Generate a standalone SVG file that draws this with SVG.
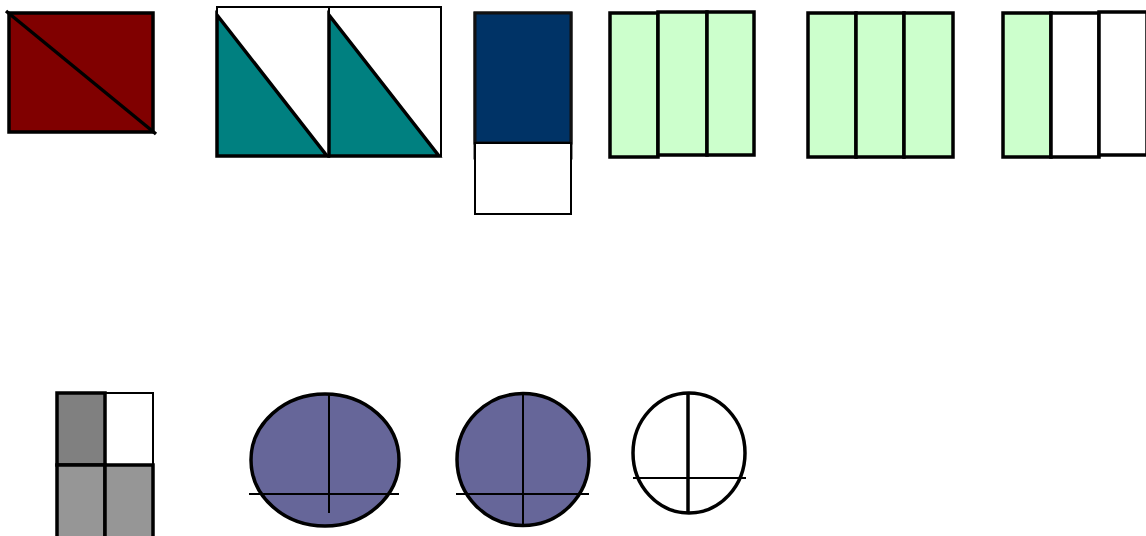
<svg xmlns="http://www.w3.org/2000/svg" width="1146" height="536" viewBox="0 0 1146 536">
<style>
.thick{stroke:#000;stroke-width:3.5;}
.thin{stroke:#000;stroke-width:2;}
.green{fill:#ccffcc;}
.purple{fill:#666699;}
</style>
<rect width="1146" height="536" fill="#fff"/>
<g id="square-diag">
<rect x="9" y="13" width="144" height="119" fill="#800000" class="thick"/>
<line x1="6" y1="11" x2="156" y2="134" class="thick"/>
</g>
<g id="triangles">
<rect x="217" y="7" width="112" height="149" fill="#fff" class="thin"/>
<rect x="329" y="7" width="112" height="149" fill="#fff" class="thin"/>
<polygon points="217,15 217,156 327,156" fill="#008080" class="thick"/>
<polygon points="329,15 329,156 439,156" fill="#008080" class="thick"/>
</g>
<g id="navy-rect">
<rect x="475" y="13" width="96" height="145" fill="none" stroke="#222" stroke-width="3"/>
<rect x="475" y="13" width="96" height="130" fill="#003366" stroke="#111" stroke-width="3"/>
<rect x="475" y="143" width="96" height="71" fill="#fff" class="thin"/>
</g>
<g id="green-three-a">
<rect x="610" y="13" width="48" height="144" class="green thick"/>
<rect x="658" y="12" width="49" height="143" class="green thick"/>
<rect x="707" y="12" width="47" height="143" class="green thick"/>
</g>
<g id="green-three-b">
<rect x="808" y="13" width="48" height="144" class="green thick"/>
<rect x="856" y="13" width="48" height="144" class="green thick"/>
<rect x="904" y="13" width="49" height="144" class="green thick"/>
</g>
<g id="green-one-of-three">
<rect x="1003" y="13" width="48" height="144" class="green thick"/>
<rect x="1051" y="13" width="48" height="144" fill="#fff" class="thick"/>
<rect x="1099" y="12" width="48" height="143" fill="#fff" class="thick"/>
</g>
<g id="gray-grid">
<rect x="105" y="393" width="48" height="72" fill="#fff" class="thin"/>
<rect x="57" y="393" width="48" height="72" fill="#808080" class="thick"/>
<rect x="57" y="465" width="48" height="80" fill="#969696" class="thick"/>
<rect x="105" y="465" width="48" height="80" fill="#969696" class="thick"/>
</g>
<g id="ellipse-a">
<ellipse cx="325" cy="460" rx="74" ry="66" class="purple thick"/>
<line x1="329" y1="394" x2="329" y2="513" class="thin"/>
<line x1="249" y1="494" x2="399" y2="494" class="thin"/>
</g>
<g id="circle-b">
<ellipse cx="523" cy="459.5" rx="66" ry="66" class="purple thick"/>
<line x1="523" y1="393" x2="523" y2="526" class="thin"/>
<line x1="456" y1="494" x2="589" y2="494" class="thin"/>
</g>
<g id="circle-c">
<ellipse cx="689" cy="453" rx="56" ry="60" fill="#fff" class="thick"/>
<line x1="688" y1="393" x2="688" y2="513" class="thick"/>
<line x1="633" y1="478" x2="746" y2="478" class="thin"/>
</g>
</svg>
